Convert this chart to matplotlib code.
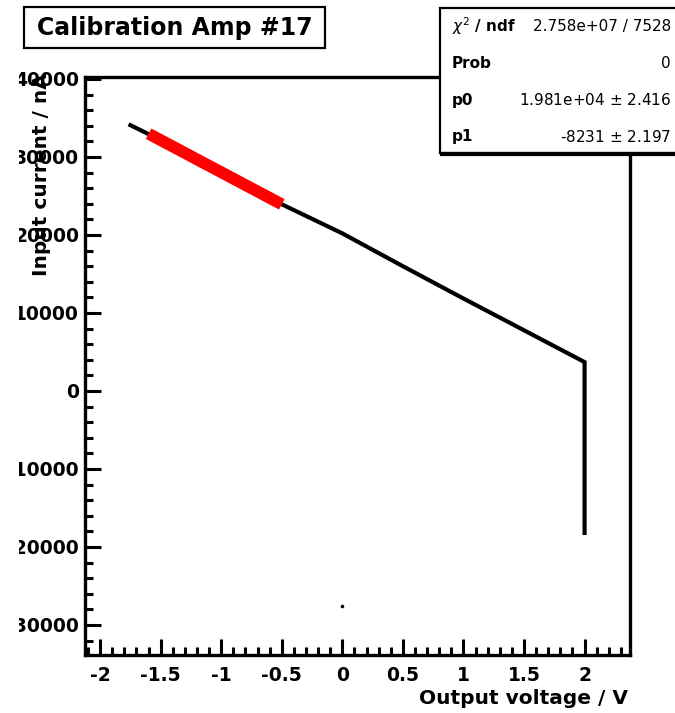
import matplotlib
matplotlib.use("Agg")
import matplotlib.pyplot as plt
from matplotlib.ticker import MultipleLocator, FuncFormatter
from matplotlib.patches import Rectangle

plt.rcParams['font.family'] = ['DejaVu Sans']
plt.rcParams['axes.unicode_minus'] = False

# measured output voltage (V) vs input current (nA)
volts = [-1.75, -1.5, -1.0, -0.5, 0.0, 0.5, 1.0, 1.5, 2.0, 2.0]
current = [34075, 32150, 28040, 23930, 20200, 15990, 11850, 7780, 3700, -18200]
stray_x = [0.0]
stray_y = [-27600]

# linear fit result
fit_range = [-1.6, -0.5]
p0 = 1.981e4
p1 = -8231
stat_names = [r"$\chi^{2}$ / ndf", "Prob", "p0", "p1"]
stat_values = ["2.758e+07 / 7528", "0", r"1.981e+04 $\pm$ 2.416", r"-8231 $\pm$ 2.197"]

W, H = 675, 713
fig = plt.figure(figsize=(W / 100, H / 100), dpi=100)
ax = fig.add_axes([85 / W, 1 - 655 / H, 545 / W, 578 / H])

ax.plot(volts, current, color='black', lw=3, solid_joinstyle='miter', zorder=2)
ax.plot(stray_x, stray_y, 'o', color='black', ms=1.6, zorder=2)
fx = fit_range
fy = [p0 + p1 * v for v in fx]
ax.plot(fx, fy, color='#ff0000', lw=8.5, solid_capstyle='butt', zorder=3)

ax.set_xlim(-2.125, 2.375)
ax.set_ylim(-33850, 40250)

ax.xaxis.set_major_locator(MultipleLocator(0.5))
ax.xaxis.set_minor_locator(MultipleLocator(0.1))
ax.yaxis.set_major_locator(MultipleLocator(10000))
ax.yaxis.set_minor_locator(MultipleLocator(2000))
ax.xaxis.set_major_formatter(FuncFormatter(lambda v, p: "%g" % v))
ax.yaxis.set_major_formatter(FuncFormatter(lambda v, p: "%d" % v))

ax.tick_params(which='both', direction='in', top=False, right=False, width=2.2)
ax.tick_params(which='major', length=11.5)
ax.tick_params(which='minor', length=6)
ax.tick_params(axis='x', pad=8)
ax.tick_params(axis='y', pad=4.3)
for lab in ax.get_xticklabels() + ax.get_yticklabels():
    lab.set_fontsize(13.5)
    lab.set_fontweight('bold')
for s in ax.spines.values():
    s.set_linewidth(2.4)

fig.text(41.5 / W, 1 - 73 / H, "Input current / nA", rotation=90, ha='center',
         va='top', fontsize=14.5, fontweight='bold')
fig.text(628 / W, 1 - 698 / H, "Output voltage / V", ha='right', va='center',
         fontsize=14.5, fontweight='bold')

# left edge of the canvas is cut off
fig.patches.append(Rectangle((0, 0), 19 / W, 1, transform=fig.transFigure,
                             facecolor='white', edgecolor='none', zorder=10))

# title box
fig.patches.append(Rectangle((24 / W, 1 - 48 / H), 301 / W, 41 / H,
                             transform=fig.transFigure, facecolor='white',
                             edgecolor='black', lw=1.6, zorder=11))
fig.text(175 / W, 1 - 28 / H, "Calibration Amp #17", ha='center', va='center',
         fontsize=17, fontweight='bold', zorder=12)

# stats box
fig.patches.append(Rectangle((440 / W, 1 - 153 / H), 250 / W, 145 / H,
                             transform=fig.transFigure, facecolor='white',
                             edgecolor='black', lw=1.6, zorder=11))
fig.lines.append(plt.Line2D([442 / W, 1.02], [1 - 154 / H, 1 - 154 / H],
                            transform=fig.transFigure, color='black', lw=3, zorder=12))
rows_y = [26, 63, 100, 137]
for name, val, yy in zip(stat_names, stat_values, rows_y):
    fig.text(452 / W, 1 - yy / H, name, ha='left', va='center', fontsize=11,
             fontweight='bold', zorder=12)
    fig.text(671 / W, 1 - yy / H, val, ha='right', va='center', fontsize=11,
             zorder=12)

fig.savefig("out.png", dpi=100)
